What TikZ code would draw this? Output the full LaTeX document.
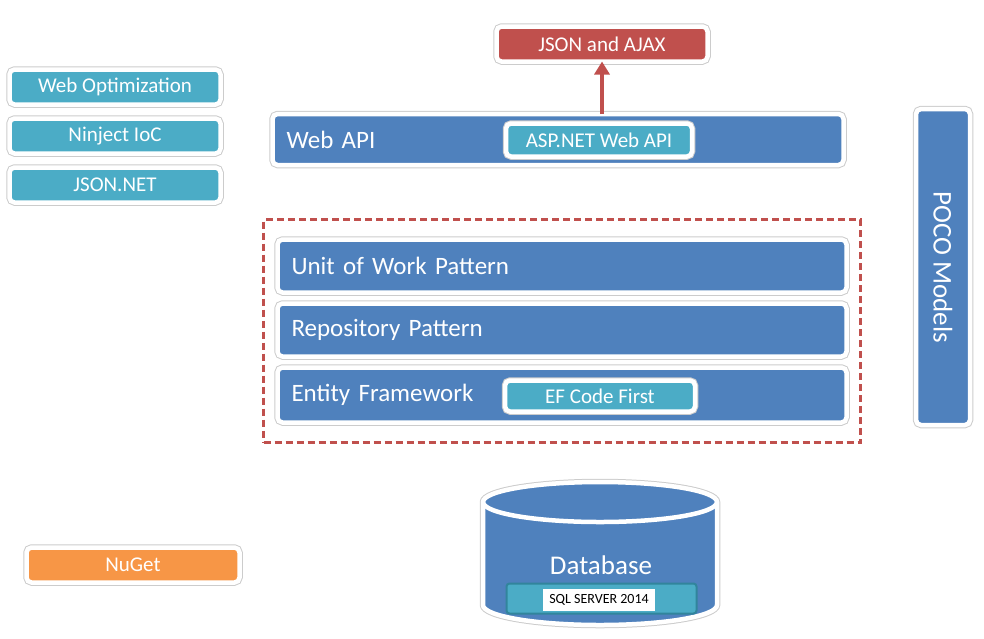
\documentclass[tikz,border=0pt]{standalone}
\usepackage{fontspec}
\setmainfont{Carlito}
\usetikzlibrary{positioning,fit,arrows.meta}

\definecolor{boxblue}{RGB}{79,129,189}
\definecolor{boxteal}{RGB}{75,172,198}
\definecolor{boxred}{RGB}{192,80,77}
\definecolor{boxorange}{RGB}{247,150,70}
\definecolor{sqlteal}{RGB}{49,133,156}

\newcommand{\tagsize}{\fontsize{21}{25}\selectfont}
\newcommand{\barsize}{\fontsize{25}{30}\selectfont}
\newcommand{\bigsize}{\fontsize{27}{32}\selectfont}
\newcommand{\sqlsize}{\fontsize{14}{16}\selectfont}

\begin{document}
\begin{tikzpicture}[
    x = 1pt, y = -1pt,
    rimmed/.style = {
        preaction = {draw = black!20, line width = 6.5pt},
        draw = white, line width = 4.5pt
    },
    framed/.style = {
        rimmed, rounded corners = 5pt,
        text = white, inner sep = 0pt, outer sep = 0pt
    },
    tag/.style = {framed, font = \tagsize, minimum width = 211pt, minimum height = 35pt},
    bar/.style = {
        framed, fill = boxblue, font = \barsize, align = left,
        inner xsep = 14pt, text width = 541pt, minimum height = 53pt
    },
    layer/.style = {draw = boxred, line width = 2.5pt, dash pattern = on 7pt off 4pt,
        inner xsep = 14pt, inner ysep = 20pt},
    flow/.style = {draw = boxred, line width = 4pt, -{Triangle[width = 15pt, length = 13pt]}},
    drum/.style = {rimmed, fill = boxblue}
]
\useasboundingbox (0,0) rectangle (984,638);

% tools on the left
\node[tag, fill = boxteal] (webopt) at (115,87) {Web Optimization};
\node[tag, fill = boxteal, below = 14pt of webopt] (ninject) {Ninject IoC};
\node[tag, fill = boxteal, below = 14pt of ninject] (jsonnet) {JSON.NET};
\node[tag, fill = boxorange, minimum width = 213pt] (nuget) at (133,565) {NuGet};

% service layer
\node[tag, fill = boxred] (ajax) at (602,44) {JSON and AJAX};
\node[bar, text width = 543pt, minimum height = 51pt] (webapi) at (558,139.5) {Web API};
\node[tag, fill = boxteal, minimum width = 186pt, minimum height = 33pt] (aspnet) at (599,140) {ASP.NET Web API};
\draw[flow] (ajax.south |- webapi.north) -- (ajax.south);

% data access layer
\node[bar] (uow) at (562,266) {Unit of Work Pattern};
\node[bar, below = 11pt of uow] (repo) {Repository Pattern};
\node[bar, below = 11pt of repo, minimum height = 55pt] (ef) {Entity Framework};
\node[tag, fill = boxteal, minimum width = 190pt, minimum height = 31pt] (efcode) at (600,396) {EF Code First};
\node[layer, fit = (uow) (ef)] (dal) {};

\node[framed, fill = boxblue, font = \bigsize, rotate = -90,
    minimum width = 316pt, minimum height = 54pt] (poco) at (943,267) {POCO Models};

% storage
\coordinate (dbtop) at (600,502);
\coordinate (dbbase) at (600,605);
\path[drum] ([xshift = -117pt] dbtop) -- ([xshift = -117pt] dbbase)
    arc[start angle = 180, end angle = 360, x radius = 117pt, y radius = 20pt]
    -- ([xshift = 117pt] dbtop)
    arc[start angle = 0, end angle = 180, x radius = 117pt, y radius = 20pt] -- cycle;
\draw[white, line width = 4.5pt] ([xshift = -117pt] dbtop)
    arc[start angle = 180, end angle = 360, x radius = 117pt, y radius = 20pt];
\node[font = \bigsize, text = white] (dbname) at (601,565) {Database};
\node[fill = boxteal, draw = sqlteal, line width = 2pt, rounded corners = 3pt,
    minimum width = 190pt, minimum height = 30pt] (sql) at (601.5,598.5) {};
\node[fill = white, text = black, font = \sqlsize, inner sep = 0pt,
    minimum width = 112pt, minimum height = 22pt] (sqltag) at (599,600) {SQL SERVER 2014};
\end{tikzpicture}
\end{document}
